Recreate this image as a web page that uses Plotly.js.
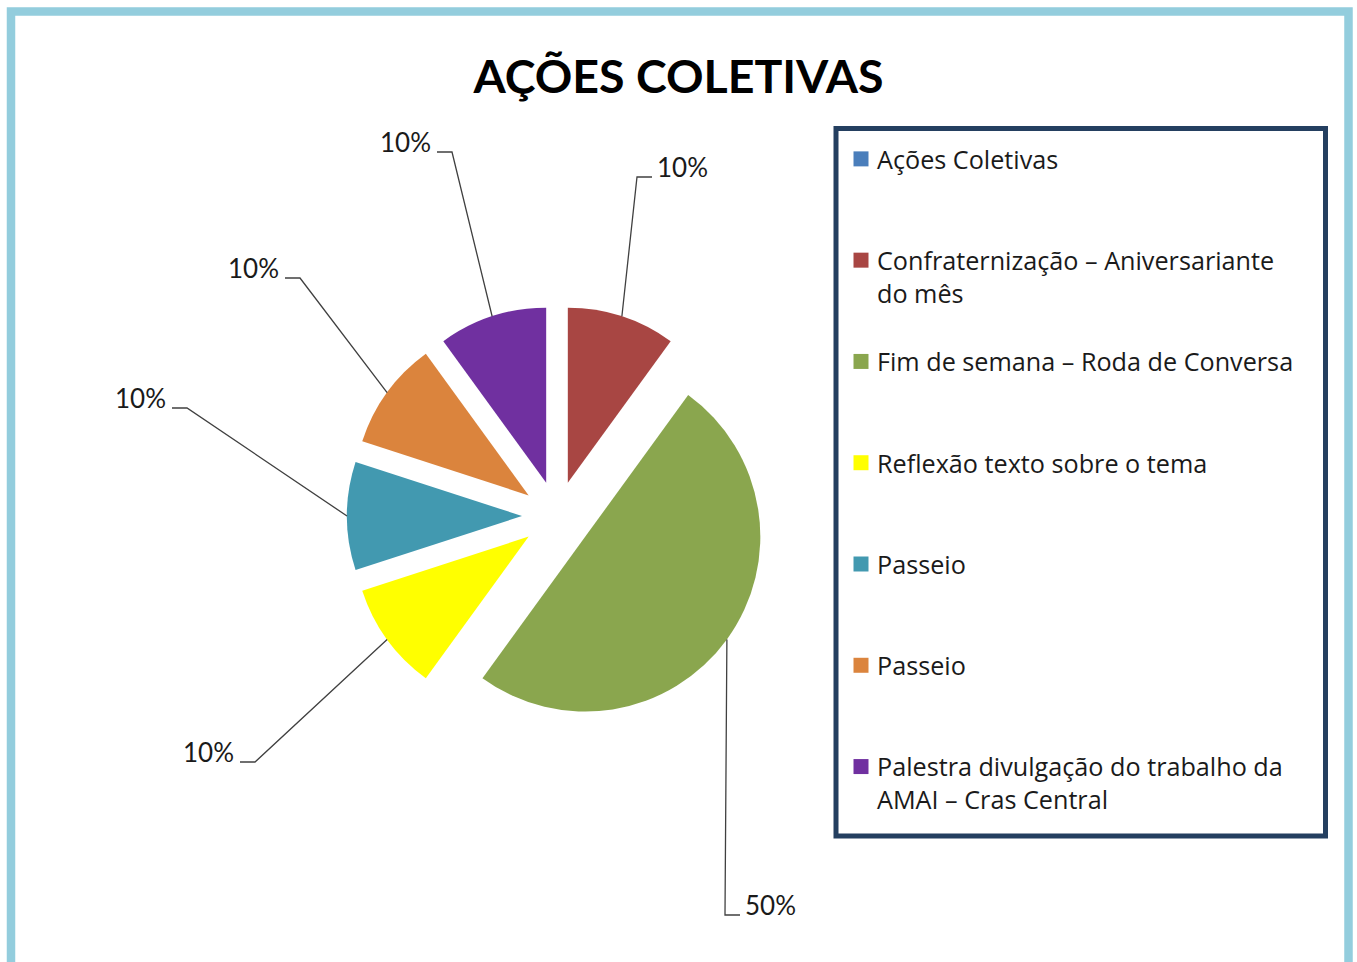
<!DOCTYPE html>
<html>
<head>
<meta charset="utf-8">
<script src="https://cdn.plot.ly/plotly-3.0.1.min.js"></script>
<style>
  html, body { margin: 0; padding: 0; background: #ffffff; }
  #chart { width: 1357px; height: 962px; }
  path.legendpie { transform: translate(24px, 0px) scale(1.25); }
</style>
</head>
<body>
<div id="chart"></div>
<script>
// ---------------- DATA ----------------
const chartTitle = "AÇÕES COLETIVAS";
const categories = [
  "Ações Coletivas",
  "Confraternização – Aniversariante\ndo mês",
  "Fim de semana – Roda de Conversa",
  "Reflexão texto sobre o tema",
  "Passeio",
  "Passeio",
  "Palestra divulgação do trabalho da\nAMAI – Cras Central"
];
const values = [0, 10, 50, 10, 10, 10, 10];
const sliceColors = ["#4A7EBB", "#A84643", "#8AA64E", "#FFFF00", "#4299B0", "#DB843D", "#7030A0"];

// ---------------- LAYOUT CONSTANTS (pixels) ----------------
const W = 1357, H = 962;
const pieGeom = { cx: 557, cy: 516, r: 175, pull: 0.2 };
// elbow point of each leader line (null = no label)
const labelElbows = [null, [637, 177], [725, 915], [255, 762], [187, 408], [300, 278], [452, 152]];
const tickLen = 15;
const FONT = "Lato, 'Open Sans', sans-serif";
const LEGEND_FONT = "'Open Sans', Lato, sans-serif";

const px = x => x / W;
const py = y => 1 - y / H;

// ---------------- TRACE ----------------
const LINES_PER_ITEM = 3;
const seen = {};
const pieLabels = categories.map(c => {
  const lines = c.split("\n");
  while (lines.length < LINES_PER_ITEM) lines.push("\u00a0");
  let s = lines.join("<br>");
  while (seen[s]) s += "\u200b";
  seen[s] = true;
  return s;
});

const half = pieGeom.r * (1 + pieGeom.pull);
const domain = {
  x: [px(pieGeom.cx - half), px(pieGeom.cx + half)],
  y: [py(pieGeom.cy + half), py(pieGeom.cy - half)]
};

const trace = {
  type: "pie",
  labels: pieLabels,
  values: values,
  sort: false,
  direction: "clockwise",
  rotation: 0,
  pull: pieGeom.pull,
  domain: domain,
  marker: { colors: sliceColors, line: { width: 0 } },
  textinfo: "none",
  hoverinfo: "label+percent",
  showlegend: true
};

// ---------------- LEADER LINES + LABELS ----------------
const total = values.reduce((a, b) => a + b, 0);
const shapes = [];
const annotations = [];
let cum = 0;
values.forEach((v, i) => {
  const mid = (cum + v / 2) / total * 2 * Math.PI;
  cum += v;
  const el = labelElbows[i];
  if (!el || v <= 0) return;
  const dx = Math.sin(mid), dy = -Math.cos(mid);
  const rr = pieGeom.r * (1 + pieGeom.pull);
  const ax = pieGeom.cx + rr * dx, ay = pieGeom.cy + rr * dy;
  const right = el[0] > pieGeom.cx;
  const tx = right ? el[0] + tickLen : el[0] - tickLen;
  shapes.push({
    type: "path", xref: "paper", yref: "paper",
    path: `M ${px(ax)},${py(ay)} L ${px(el[0])},${py(el[1])} L ${px(tx)},${py(el[1])}`,
    line: { color: "#404040", width: 1.3 }
  });
  annotations.push({
    xref: "paper", yref: "paper",
    x: px(right ? el[0] + tickLen + 3 : el[0] - tickLen - 4),
    y: py(el[1] - 10),
    xanchor: right ? "left" : "right", yanchor: "middle",
    text: Math.round(v / total * 100) + "%",
    showarrow: false,
    font: { family: FONT, size: 26, color: "#1a1a1a" }
  });
});

// outer frame
shapes.push({
  type: "rect", xref: "paper", yref: "paper",
  x0: px(11), x1: px(1348.5), y0: py(1000), y1: py(11.5),
  line: { color: "#93CDDD", width: 8.5 }, layer: "below"
});
// legend box
shapes.push({
  type: "rect", xref: "paper", yref: "paper",
  x0: px(836), x1: px(1325.5), y0: py(836), y1: py(128.5),
  line: { color: "#243F60", width: 5 }
});

const layout = {
  width: W, height: H,
  margin: { l: 0, r: 0, t: 0, b: 0 },
  paper_bgcolor: "#ffffff",
  title: {
    text: chartTitle,
    x: 0.5, xanchor: "center", xref: "paper",
    y: py(77), yanchor: "middle", yref: "paper",
    font: { family: FONT, size: 46.5, weight: "bold", color: "#000000" }
  },
  showlegend: true,
  legend: {
    x: px(837), xanchor: "left",
    y: py(136), yanchor: "top",
    bgcolor: "rgba(0,0,0,0)",
    borderwidth: 0,
    valign: "top",
    font: { family: LEGEND_FONT, size: 25.2, color: "#1a1a1a" },
    traceorder: "normal"
  },
  shapes: shapes,
  annotations: annotations
};

Plotly.newPlot("chart", [trace], layout, { displayModeBar: false, staticPlot: true });
</script>
</body>
</html>
